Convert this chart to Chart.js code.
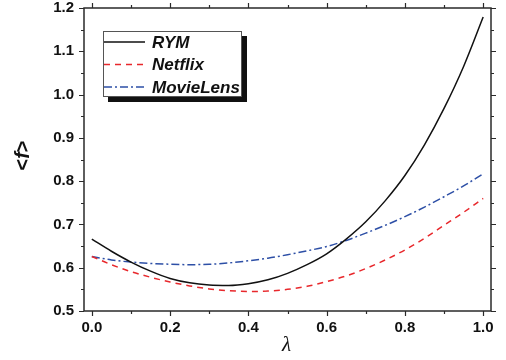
<!DOCTYPE html>
<html>
<head>
<meta charset="utf-8">
<script src="https://cdn.jsdelivr.net/npm/chart.js@4/dist/chart.umd.min.js"></script>
<style>
  html, body { margin: 0; padding: 0; background: #fff; }
  #wrap { width: 506px; height: 360px; position: relative; }
</style>
</head>
<body>
<div id="wrap"><canvas id="c" width="506" height="360"></canvas></div>
<script>
// ---- data ----
const lambdaValues    = [0, 0.05, 0.1, 0.15, 0.2, 0.25, 0.3, 0.35, 0.4, 0.45, 0.5, 0.55, 0.6, 0.65, 0.7, 0.75, 0.8, 0.85, 0.9, 0.95, 1.0];
const rymValues       = [0.666, 0.638, 0.613, 0.592, 0.575, 0.565, 0.560, 0.559, 0.563, 0.572, 0.587, 0.607, 0.632, 0.666, 0.706, 0.755, 0.813, 0.884, 0.968, 1.065, 1.179];
const netflixValues   = [0.626, 0.607, 0.591, 0.578, 0.567, 0.558, 0.551, 0.547, 0.545, 0.546, 0.550, 0.557, 0.568, 0.581, 0.598, 0.618, 0.641, 0.668, 0.698, 0.728, 0.760];
const movielensValues = [0.626, 0.618, 0.613, 0.610, 0.608, 0.607, 0.608, 0.611, 0.616, 0.622, 0.630, 0.639, 0.649, 0.663, 0.680, 0.698, 0.718, 0.740, 0.764, 0.789, 0.817];
const seriesNames     = ['RYM', 'Netflix', 'MovieLens'];
const xTickValues     = [0, 0.2, 0.4, 0.6, 0.8, 1.0];
const xMinorValues    = [0.1, 0.3, 0.5, 0.7, 0.9];
const yTickValues     = [0.5, 0.6, 0.7, 0.8, 0.9, 1.0, 1.1, 1.2];
const yMinorValues    = [0.55, 0.65, 0.75, 0.85, 0.95, 1.05, 1.15];

const FONT = "'Liberation Sans', Arial, Helvetica, sans-serif";
const toPts = ys => lambdaValues.map((x, i) => ({ x: x, y: ys[i] }));

const styles = [
  { color: '#111111', dash: [] },
  { color: '#e8282c', dash: [6, 5] },
  { color: '#2d4fa6', dash: [8, 3, 2, 3] }
];

const framePlugin = {
  id: 'frame',
  afterDraw(chart) {
    const ctx = chart.ctx, a = chart.chartArea;
    const xs = chart.scales.x, ys = chart.scales.y;
    ctx.save();
    ctx.strokeStyle = '#2a2a2a';
    ctx.lineWidth = 1.5;
    ctx.strokeRect(a.left, a.top, a.right - a.left, a.bottom - a.top);
    ctx.lineWidth = 1.2;
    ctx.beginPath();
    const tickX = (v, len) => {
      const p = Math.round(xs.getPixelForValue(v)) + 0.5;
      ctx.moveTo(p, a.bottom); ctx.lineTo(p, a.bottom + len);
      ctx.moveTo(p, a.top); ctx.lineTo(p, a.top - len);
    };
    const tickY = (v, len) => {
      const p = Math.round(ys.getPixelForValue(v)) + 0.5;
      ctx.moveTo(a.left, p); ctx.lineTo(a.left - len, p);
      ctx.moveTo(a.right, p); ctx.lineTo(a.right + len, p);
    };
    xTickValues.forEach(v => tickX(v, 5));
    xMinorValues.forEach(v => tickX(v, 3));
    yTickValues.forEach(v => tickY(v, 5));
    yMinorValues.forEach(v => tickY(v, 3));
    ctx.stroke();

    // y-axis title "<f>"
    ctx.save();
    ctx.translate(23, (a.top + a.bottom) / 2 - 4);
    ctx.rotate(-Math.PI / 2);
    ctx.fillStyle = '#111';
    ctx.textBaseline = 'middle';
    const parts = [['<', 'bold 20px ' + FONT], ['f', 'italic bold 20px ' + FONT], ['>', 'bold 20px ' + FONT]];
    let w = 0;
    parts.forEach(p => { ctx.font = p[1]; w += ctx.measureText(p[0]).width; });
    let cx = -w / 2;
    parts.forEach(p => { ctx.font = p[1]; ctx.fillText(p[0], cx, 0); cx += ctx.measureText(p[0]).width; });
    ctx.restore();

    // x-axis title lambda
    ctx.fillStyle = '#111';
    ctx.font = "italic 21px 'Liberation Serif', 'DejaVu Serif', serif";
    ctx.textAlign = 'center';
    ctx.textBaseline = 'alphabetic';
    ctx.fillText('\u03BB', (a.left + a.right) / 2 - 1, 351);

    // legend
    const bx = 103, by = 31, bw = 138, bh = 65;
    ctx.fillStyle = '#111';
    ctx.fillRect(bx + 5, by + 5, bw + 1, bh + 1);
    ctx.fillStyle = '#fff';
    ctx.fillRect(bx, by, bw, bh);
    ctx.strokeStyle = '#555';
    ctx.lineWidth = 1;
    ctx.strokeRect(bx + 0.5, by + 0.5, bw, bh);
    chart.data.datasets.forEach((ds, i) => {
      const yy = by + 11 + i * 22.5;
      ctx.strokeStyle = ds.borderColor;
      ctx.lineWidth = 1.5;
      ctx.setLineDash(ds.borderDash || []);
      ctx.beginPath();
      ctx.moveTo(bx + 1, yy); ctx.lineTo(bx + 42, yy);
      ctx.stroke();
      ctx.setLineDash([]);
      ctx.fillStyle = '#111';
      ctx.font = 'italic bold 17px ' + FONT;
      ctx.textAlign = 'left';
      ctx.textBaseline = 'middle';
      ctx.fillText(ds.label, bx + 49, yy + 1);
    });
    ctx.restore();
  }
};

new Chart(document.getElementById('c'), {
  type: 'line',
  data: {
    datasets: [rymValues, netflixValues, movielensValues].map((vals, i) => ({
      label: seriesNames[i],
      data: toPts(vals),
      borderColor: styles[i].color,
      borderDash: styles[i].dash,
      borderWidth: 1.5,
      pointRadius: 0,
      fill: false,
      cubicInterpolationMode: 'monotone'
    }))
  },
  options: {
    responsive: false,
    animation: false,
    devicePixelRatio: 1,
    layout: { padding: { left: 0, right: 15, top: 8, bottom: 0 } },
    plugins: { legend: { display: false }, tooltip: { enabled: false } },
    scales: {
      x: {
        type: 'linear',
        min: -0.02, max: 1.02,
        afterBuildTicks: s => { s.ticks = xTickValues.map(v => ({ value: v })); },
        afterFit: s => { s.height = 49; s.paddingLeft = 0; s.paddingRight = 0; },
        grid: { display: false, drawTicks: false, tickLength: 0 },
        border: { display: false },
        ticks: {
          color: '#111',
          font: { family: FONT, size: 15, weight: 'bold' },
          padding: 8,
          maxRotation: 0,
          callback: v => v.toFixed(1)
        }
      },
      y: {
        type: 'linear',
        min: 0.5, max: 1.2,
        afterBuildTicks: s => { s.ticks = yTickValues.map(v => ({ value: v })); },
        afterFit: s => { s.width = 84; s.paddingTop = 0; s.paddingBottom = 0; },
        grid: { display: false, drawTicks: false, tickLength: 0 },
        border: { display: false },
        ticks: {
          color: '#111',
          font: { family: FONT, size: 15, weight: 'bold' },
          padding: 10,
          callback: v => v.toFixed(1)
        }
      }
    }
  },
  plugins: [framePlugin]
});
</script>
</body>
</html>
